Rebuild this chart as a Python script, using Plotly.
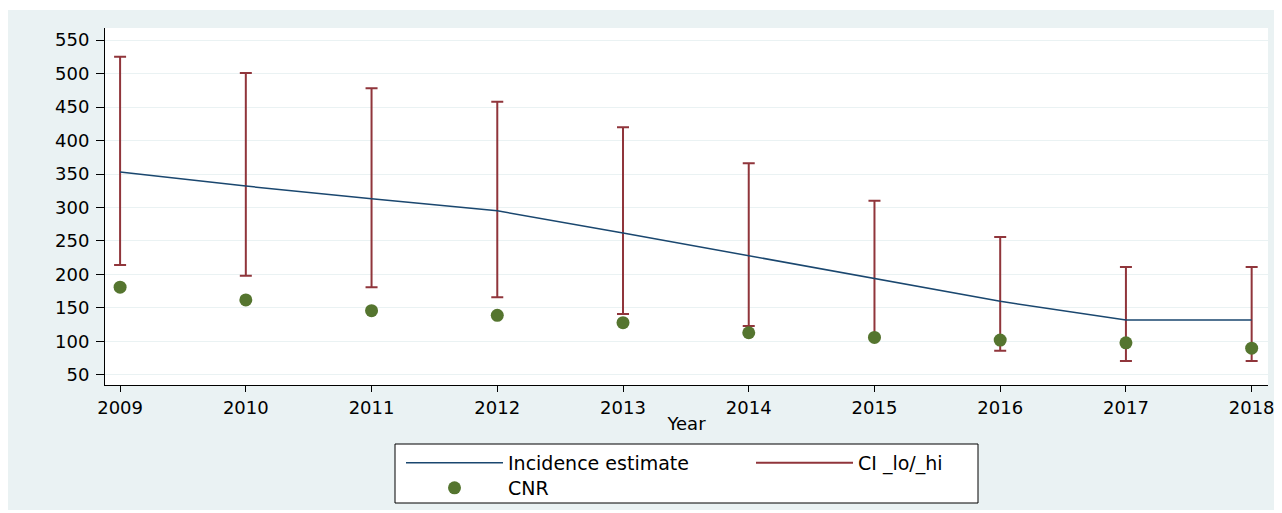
import plotly.graph_objects as go

years = [2009, 2010, 2011, 2012, 2013, 2014, 2015, 2016, 2017, 2018]
incidence = [353, 332, 313, 295, 262, 228, 195, 160, 132, 132]
ci_hi = [525, 501, 478, 458, 420, 366, 310, 256, 211, 211]
ci_lo = [214, 198, 181, 166, 141, 123, 106, 86, 71, 71]
cnr = [181, 162, 146, 139, 128, 113, 106, 102, 98, 90]
y_ticks = [50, 100, 150, 200, 250, 300, 350, 400, 450, 500, 550]

NAVY = "#1A476F"
MAROON = "#90353B"
GREEN = "#55752F"
BG = "#EAF2F3"
FONT = "DejaVu Sans, Liberation Sans, Arial, sans-serif"

fig = go.Figure()

# CI bars: invisible point at hi with one-sided error down to lo
fig.add_trace(go.Scatter(
    x=years, y=ci_hi, mode="markers",
    marker=dict(color="rgba(0,0,0,0)", size=1),
    error_y=dict(type="data", symmetric=False,
                 array=[0] * len(years),
                 arrayminus=[h - l for h, l in zip(ci_hi, ci_lo)],
                 color=MAROON, thickness=2, width=6),
    showlegend=False, hoverinfo="skip",
))

fig.add_trace(go.Scatter(
    x=years, y=incidence, mode="lines",
    line=dict(color=NAVY, width=1.5),
    name="Incidence estimate", legend="legend",
))

# legend entry for CI
fig.add_trace(go.Scatter(
    x=[None], y=[None], mode="lines",
    line=dict(color=MAROON, width=2),
    name="CI _lo/_hi", legend="legend",
))

fig.add_trace(go.Scatter(
    x=years, y=cnr, mode="markers",
    marker=dict(color=GREEN, size=13, line=dict(width=0)),
    name="CNR", legend="legend2",
))

OFF = 8  # page body margin
W, H = 1282 - OFF, 513 - OFF
# page-coordinate plot area: left 105, right 1268, top 28, bottom 385
L = 105 - OFF
T = 28 - OFF
R = W - (1268 - OFF)
B = H - (385 - OFF)
pw, ph = W - L - R, H - T - B

def px(xp):
    return (xp - OFF - L) / pw

def py(yp):
    return (H - B - (yp - OFF)) / ph

shapes = [
    dict(type="rect", xref="paper", yref="paper", x0=px(8), x1=px(1300),
         y0=py(510), y1=py(10), fillcolor=BG, line=dict(width=0), layer="below"),
    dict(type="rect", xref="paper", yref="paper", x0=0, x1=1, y0=0, y1=1,
         fillcolor="white", line=dict(width=0), layer="below"),
    dict(type="rect", xref="paper", yref="paper", x0=px(395), x1=px(978),
         y0=py(503), y1=py(444), fillcolor="white",
         line=dict(color="black", width=1), layer="below"),
]

fig.update_layout(
    width=W, height=H,
    margin=dict(l=L, r=R, t=T, b=B, autoexpand=False),
    paper_bgcolor="white", plot_bgcolor="white",
    font=dict(family=FONT, size=18, color="black"),
    shapes=shapes,
    xaxis=dict(
        range=[2008.88, 2018.13], tickmode="array", tickvals=years,
        ticktext=[str(y) for y in years],
        showgrid=False, zeroline=False, automargin=False,
        showline=True, linecolor="black", linewidth=1,
        ticks="outside", ticklen=6, tickcolor="black", tickwidth=1,
        title=dict(text="Year", font=dict(size=18), standoff=0),
    ),
    yaxis=dict(
        range=[35, 568], tickmode="array", tickvals=y_ticks,
        showgrid=True, gridcolor=BG, gridwidth=1, zeroline=False,
        automargin=False,
        showline=True, linecolor="black", linewidth=1,
        ticks="outside", ticklen=8, tickcolor="black", tickwidth=1,
        ticklabelstandoff=3,
    ),
    legend=dict(
        orientation="h", x=px(401), y=py(444), xanchor="left", yanchor="top",
        bgcolor="rgba(0,0,0,0)", borderwidth=0, itemwidth=97,
        entrywidth=238, font=dict(size=19),
    ),
    legend2=dict(
        orientation="h", x=px(401), y=py(469), xanchor="left", yanchor="top",
        bgcolor="rgba(0,0,0,0)", borderwidth=0, itemwidth=97,
        font=dict(size=19),
    ),
)

fig.write_html("out.html")
